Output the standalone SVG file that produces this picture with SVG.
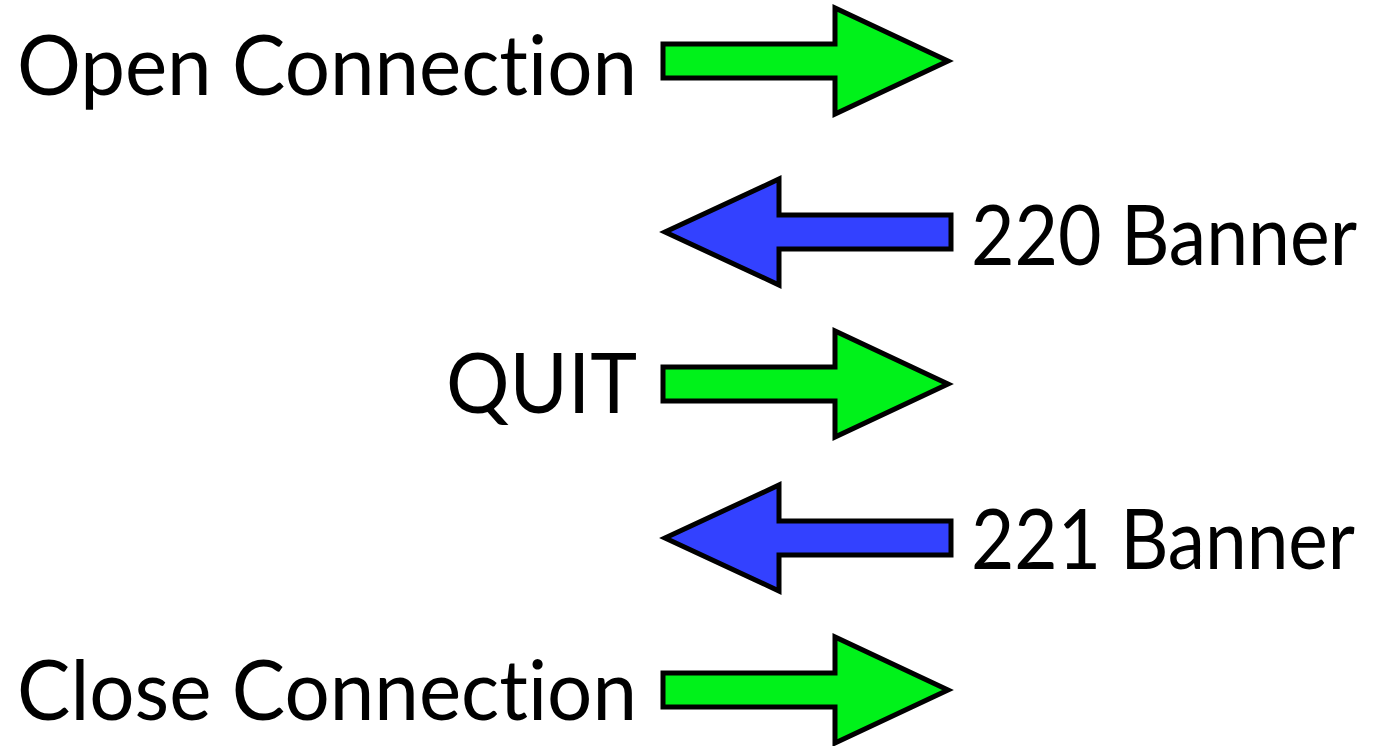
<svg xmlns="http://www.w3.org/2000/svg" width="1374" height="746" viewBox="0 0 1374 746">
<style>
.t{font-family:Lato,"Open Sans",sans-serif;font-size:84px;fill:#000;font-variant-ligatures:none}
.g{fill:#00f21a;stroke:#000;stroke-width:5;stroke-linejoin:miter}
.b{fill:#3341ff;stroke:#000;stroke-width:5;stroke-linejoin:miter}
</style>
<rect width="1374" height="746" fill="#fff"/>
<defs>
<path id="ra" d="M663,-17 L835,-17 L835,-53 L948,0 L835,53 L835,17 L663,17 Z"/>
<path id="la" d="M951,-17 L779,-17 L779,-53 L665,0 L779,53 L779,17 L951,17 Z"/>
</defs>
<g id="connectors">
<use href="#ra" class="g" y="61"/>
<use href="#la" class="b" y="232"/>
<use href="#ra" class="g" y="384"/>
<use href="#la" class="b" y="538"/>
<use href="#ra" class="g" y="690"/>
</g>
<g id="open"><text class="t" x="17" y="95" textLength="620" lengthAdjust="spacingAndGlyphs">Open Connection</text></g>
<g id="banner220"><text class="t" x="971" y="265" textLength="386" lengthAdjust="spacingAndGlyphs">220 Banner</text></g>
<g id="quit"><text class="t" x="446" y="413" textLength="191" lengthAdjust="spacingAndGlyphs">QUIT</text></g>
<g id="banner221"><text class="t" x="971" y="569" textLength="384" lengthAdjust="spacingAndGlyphs">221 Banner</text></g>
<g id="close"><text class="t" x="17" y="720" textLength="620" lengthAdjust="spacingAndGlyphs">Close Connection</text></g>
</svg>
